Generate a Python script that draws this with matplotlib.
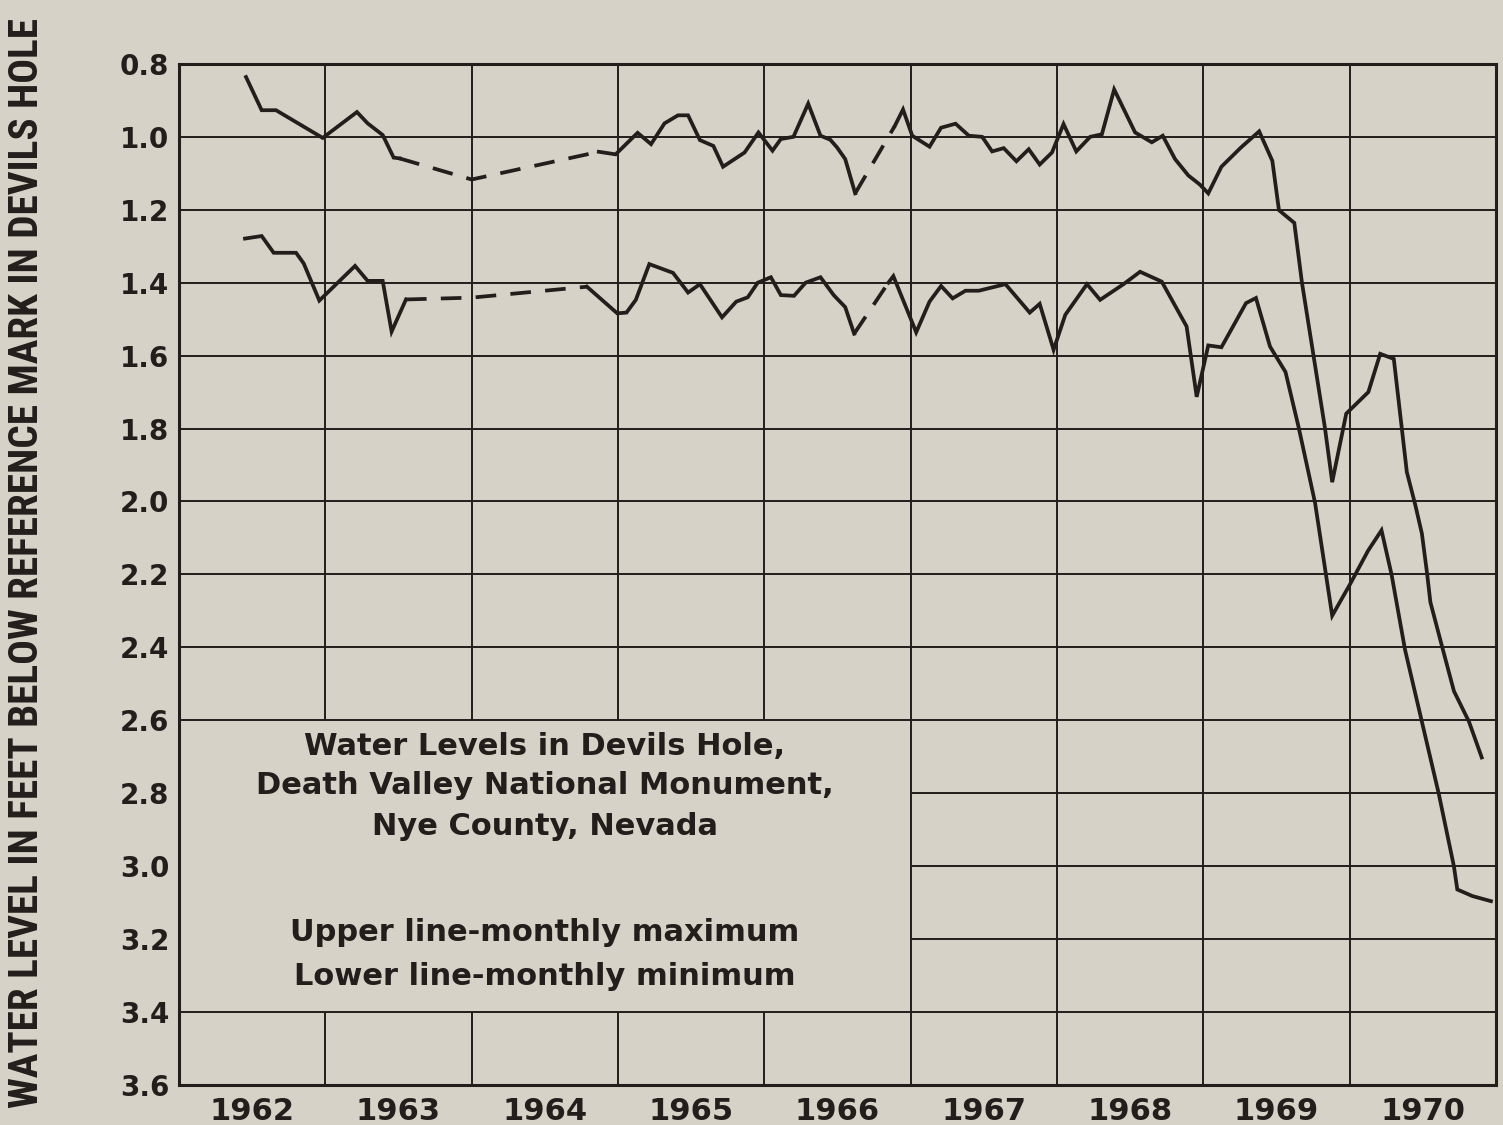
import matplotlib
matplotlib.use("Agg")
import matplotlib.pyplot as plt
from matplotlib import font_manager

# ---------------- data ----------------
years = [1962, 1963, 1964, 1965, 1966, 1967, 1968, 1969, 1970]
year_labels = ["1962", "1963", "1964", "1965", "1966", "1967", "1968", "1969", "1970"]
y_ticks = [0.8, 1.0, 1.2, 1.4, 1.6, 1.8, 2.0, 2.2, 2.4, 2.6, 2.8, 3.0, 3.2, 3.4, 3.6]
y_tick_labels = ["0.8", "1.0", "1.2", "1.4", "1.6", "1.8", "2.0", "2.2", "2.4",
                 "2.6", "2.8", "3.0", "3.2", "3.4", "3.6"]

# Upper line - monthly maximum (decimal year, feet below reference mark)
upper_t = [1962.458, 1962.565, 1962.663, 1962.982, 1963.216, 1963.289, 1963.392, 1963.467,
           1963.506, 1964.000, 1964.869, 1964.984, 1965.134, 1965.226, 1965.318, 1965.410,
           1965.479, 1965.560, 1965.652, 1965.718, 1965.865, 1965.960, 1966.056, 1966.113,
           1966.199, 1966.300, 1966.384, 1966.451, 1966.497, 1966.553, 1966.621, 1966.892,
           1966.948, 1967.011, 1967.129, 1967.208, 1967.307, 1967.398, 1967.489, 1967.557,
           1967.636, 1967.723, 1967.807, 1967.882, 1967.966, 1968.045, 1968.132, 1968.227,
           1968.307, 1968.391, 1968.534, 1968.648, 1968.723, 1968.807, 1968.898, 1968.977,
           1969.034, 1969.124, 1969.258, 1969.382, 1969.472, 1969.517, 1969.622, 1969.674,
           1969.831, 1969.881, 1969.977, 1970.128, 1970.209, 1970.302, 1970.356, 1970.391,
           1970.448, 1970.494, 1970.529, 1970.552, 1970.632, 1970.713, 1970.816, 1970.903]
upper_v = [0.836, 0.927, 0.927, 1.003, 0.932, 0.963, 0.995, 1.057,
           1.059, 1.117, 1.041, 1.048, 0.989, 1.020, 0.963, 0.941,
           0.941, 1.009, 1.025, 1.082, 1.043, 0.988, 1.038, 1.006,
           1.000, 0.909, 0.997, 1.008, 1.029, 1.061, 1.155, 0.970,
           0.925, 0.997, 1.027, 0.975, 0.964, 0.997, 1.000, 1.040,
           1.031, 1.067, 1.034, 1.076, 1.043, 0.965, 1.040, 1.000,
           0.993, 0.870, 0.988, 1.015, 0.997, 1.061, 1.106, 1.131,
           1.155, 1.082, 1.029, 0.985, 1.066, 1.201, 1.236, 1.399,
           1.797, 1.947, 1.759, 1.700, 1.595, 1.609, 1.797, 1.919,
           2.008, 2.088, 2.196, 2.276, 2.398, 2.520, 2.604, 2.702]
# segments (point i -> i+1) drawn dashed
upper_dashed = [8, 9, 30]

# Lower line - monthly minimum
lower_t = [1962.451, 1962.565, 1962.647, 1962.800, 1962.852, 1962.959, 1963.203, 1963.289,
           1963.392, 1963.453, 1963.551, 1964.000, 1964.788, 1964.995, 1965.058, 1965.122,
           1965.214, 1965.376, 1965.479, 1965.560, 1965.711, 1965.808, 1965.887, 1965.955,
           1966.045, 1966.113, 1966.203, 1966.282, 1966.384, 1966.474, 1966.553, 1966.614,
           1966.848, 1966.882, 1967.038, 1967.129, 1967.208, 1967.287, 1967.375, 1967.466,
           1967.648, 1967.814, 1967.882, 1967.977, 1968.057, 1968.205, 1968.295, 1968.455,
           1968.568, 1968.716, 1968.886, 1968.955, 1969.034, 1969.124, 1969.292, 1969.360,
           1969.456, 1969.562, 1969.652, 1969.764, 1969.881, 1970.000, 1970.126, 1970.218,
           1970.287, 1970.379, 1970.494, 1970.609, 1970.713, 1970.736, 1970.839, 1970.966]
lower_v = [1.279, 1.272, 1.318, 1.318, 1.347, 1.449, 1.354, 1.395,
           1.395, 1.534, 1.446, 1.441, 1.411, 1.484, 1.482, 1.447,
           1.349, 1.373, 1.427, 1.404, 1.495, 1.452, 1.440, 1.400,
           1.385, 1.434, 1.436, 1.400, 1.385, 1.434, 1.467, 1.540,
           1.400, 1.382, 1.536, 1.452, 1.409, 1.443, 1.422, 1.422,
           1.404, 1.482, 1.458, 1.584, 1.488, 1.404, 1.447, 1.404,
           1.370, 1.397, 1.520, 1.713, 1.572, 1.577, 1.456, 1.442,
           1.575, 1.645, 1.797, 2.004, 2.313, 2.229, 2.135, 2.079,
           2.201, 2.407, 2.604, 2.801, 3.001, 3.064, 3.082, 3.096]
lower_dashed = [10, 11, 31]

title_lines = ["Water Levels in Devils Hole,",
               "Death Valley National Monument,",
               "Nye County, Nevada"]
legend_lines = ["Upper line-monthly maximum",
                "Lower line-monthly minimum"]
y_label = "WATER LEVEL IN FEET BELOW REFERENCE MARK IN DEVILS HOLE"

# ---------------- style ----------------
BG = "#d6d2c7"
INK = "#221e1c"

fig = plt.figure(figsize=(15.03, 11.25), dpi=100, facecolor=BG)
ax = fig.add_axes([0.1191, 0.0356, 0.8762, 0.9076], facecolor=BG)

x0, x1 = years[0], years[-1] + 1
ax.set_xlim(x0, x1)
ax.set_ylim(y_ticks[-1], y_ticks[0])

# note box (no interior grid) : x 1962-1967, y 2.6-3.4
box_x0, box_x1 = 1962, 1967
box_y0, box_y1 = 2.6, 3.4

grid_kw = dict(color=INK, linewidth=1.4, zorder=1)
for y in y_ticks[1:-1]:
    if box_y0 < y < box_y1:
        ax.hlines(y, box_x1, x1, **grid_kw)
    else:
        ax.hlines(y, x0, x1, **grid_kw)
for x in years[1:]:
    if x < box_x1:
        ax.vlines(x, y_ticks[0], box_y0, **grid_kw)
        ax.vlines(x, box_y1, y_ticks[-1], **grid_kw)
    else:
        ax.vlines(x, y_ticks[0], y_ticks[-1], **grid_kw)


def draw_series(t, v, dashed):
    n = len(t)
    i = 0
    while i < n - 1:
        style = i in dashed
        j = i
        while j < n - 1 and ((j in dashed) == style):
            j += 1
        if style:
            ax.plot(t[i:j + 1], v[i:j + 1], color=INK, linewidth=2.7,
                    linestyle=(0, (5.5, 3.8)), dash_capstyle="butt", zorder=3)
        else:
            ax.plot(t[i:j + 1], v[i:j + 1], color=INK, linewidth=2.7,
                    solid_joinstyle="miter", zorder=3)
        i = j


draw_series(upper_t, upper_v, upper_dashed)
draw_series(lower_t, lower_v, lower_dashed)

for s in ax.spines.values():
    s.set_linewidth(2.2)
    s.set_color(INK)

# ticks
ax.set_yticks(y_ticks)
ax.set_yticklabels(y_tick_labels, fontsize=20, fontweight="bold", color=INK,
                   family="DejaVu Sans")
ax.set_xticks([y + 0.5 for y in years])
ax.set_xticklabels(year_labels, fontsize=22, fontweight="bold", color=INK,
                   family="DejaVu Sans")
ax.tick_params(axis="both", length=0)
ax.tick_params(axis="y", pad=7)
ax.tick_params(axis="x", pad=9)

# note text
cx = (box_x0 + box_x1) / 2
for txt, yy in zip(title_lines, [2.673, 2.780, 2.892]):
    ax.text(cx, yy, txt, ha="center", va="center", fontsize=22,
            fontweight="bold", color=INK, family="DejaVu Sans", zorder=4)
for txt, yy in zip(legend_lines, [3.182, 3.303]):
    ax.text(cx, yy, txt, ha="center", va="center", fontsize=22,
            fontweight="bold", color=INK, family="DejaVu Sans", zorder=4)

# y label: prefer a condensed face, then fit it to the reference length
installed = {f.name for f in font_manager.fontManager.ttflist}
cond_candidates = ["DejaVu Sans Condensed", "Liberation Sans Narrow", "Roboto Condensed",
                   "Open Sans Condensed", "Noto Sans Condensed", "Roboto", "DejaVu Sans"]
ylab_family = next((n for n in cond_candidates if n in installed), "DejaVu Sans")
ylab = fig.text(0.0178, 0.4996, y_label, rotation=90, ha="center", va="center",
                fontsize=24, fontweight="bold", color=INK, family=ylab_family)
fig.canvas.draw()
ext = ylab.get_window_extent()
target = 1090.0
ylab.set_fontsize(min(30.0, 24.0 * target / ext.height))

fig.savefig("out.png", dpi=100, facecolor=BG)
